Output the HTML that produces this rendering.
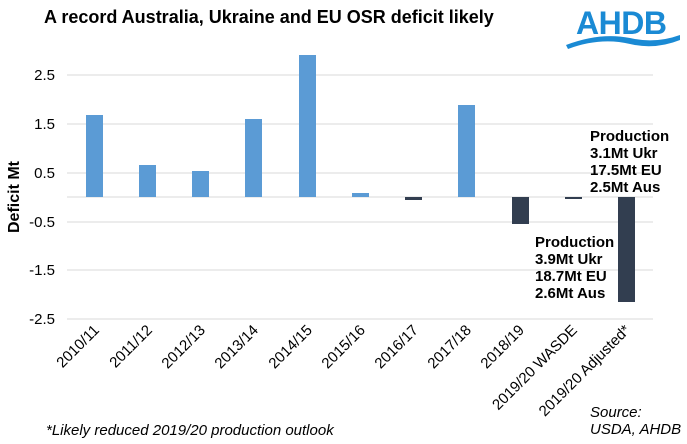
<!DOCTYPE html>
<html><head><meta charset="utf-8"><style>
html,body{margin:0;padding:0;background:#fff;}
svg{display:block;font-family:"Liberation Sans",Arial,sans-serif;}
</style></head><body>
<svg width="687" height="444" viewBox="0 0 687 444" xmlns="http://www.w3.org/2000/svg">
<text x="44" y="23" font-size="18" font-weight="bold" fill="#000">A record Australia, Ukraine and EU OSR deficit likely</text>
<text x="576" y="34" font-size="32" font-weight="bold" fill="#1a8ad4" letter-spacing="-0.5">AHDB</text>
<path d="M566 45 Q600 32 630 38 Q655 44 680 35 L680 40 Q655 50 630 44 Q600 37 568 49 Z" fill="#1a8ad4"/>
<g stroke="#d9d9d9" stroke-width="1">
<line x1="67" x2="653" y1="75" y2="75"/>
<line x1="67" x2="653" y1="124" y2="124"/>
<line x1="67" x2="653" y1="173" y2="173"/>
<line x1="67" x2="653" y1="222" y2="222"/>
<line x1="67" x2="653" y1="270" y2="270"/>
<line x1="67" x2="653" y1="319" y2="319"/>
<line x1="67" x2="653" y1="197" y2="197"/>
</g>
<g font-size="15" fill="#000" text-anchor="end">
<text x="55" y="80">2.5</text>
<text x="55" y="129">1.5</text>
<text x="55" y="178">0.5</text>
<text x="55" y="227">-0.5</text>
<text x="55" y="275">-1.5</text>
<text x="55" y="324">-2.5</text>
</g>
<text transform="translate(19,197) rotate(-90)" font-size="16" font-weight="bold" text-anchor="middle">Deficit Mt</text>
<g fill="#5b9bd5">
<rect x="86" y="115" width="17" height="82"/>
<rect x="139" y="165" width="17" height="32"/>
<rect x="192" y="171" width="17" height="26"/>
<rect x="245" y="119" width="17" height="78"/>
<rect x="299" y="55" width="17" height="142"/>
<rect x="352" y="193" width="17" height="4"/>
<rect x="458" y="105" width="17" height="92"/>
</g>
<g fill="#323e50">
<rect x="405" y="197" width="17" height="3"/>
<rect x="512" y="197" width="17" height="27"/>
<rect x="565" y="197" width="17" height="2"/>
<rect x="618" y="197" width="17" height="105"/>
</g>
<g font-size="15" fill="#000" text-anchor="end">
<text transform="translate(100,331) rotate(-45)">2010/11</text>
<text transform="translate(153,331) rotate(-45)">2011/12</text>
<text transform="translate(206,331) rotate(-45)">2012/13</text>
<text transform="translate(259,331) rotate(-45)">2013/14</text>
<text transform="translate(313,331) rotate(-45)">2014/15</text>
<text transform="translate(366,331) rotate(-45)">2015/16</text>
<text transform="translate(419,331) rotate(-45)">2016/17</text>
<text transform="translate(472,331) rotate(-45)">2017/18</text>
<text transform="translate(525,331) rotate(-45)">2018/19</text>
<text transform="translate(578,331) rotate(-45)">2019/20 WASDE</text>
<text transform="translate(631,331) rotate(-45)">2019/20 Adjusted*</text>
</g>
<g font-size="15" font-weight="bold" fill="#000">
<text x="590" y="141">Production</text>
<text x="590" y="158">3.1Mt Ukr</text>
<text x="590" y="175">17.5Mt EU</text>
<text x="590" y="192">2.5Mt Aus</text>
<text x="535" y="247">Production</text>
<text x="535" y="264">3.9Mt Ukr</text>
<text x="535" y="281">18.7Mt EU</text>
<text x="535" y="298">2.6Mt Aus</text>
</g>
<text x="46" y="435" font-size="15" font-style="italic">*Likely reduced 2019/20 production outlook</text>
<text x="590" y="417" font-size="15" font-style="italic">Source:</text>
<text x="590" y="434" font-size="15" font-style="italic">USDA, AHDB</text>
</svg>
</body></html>
